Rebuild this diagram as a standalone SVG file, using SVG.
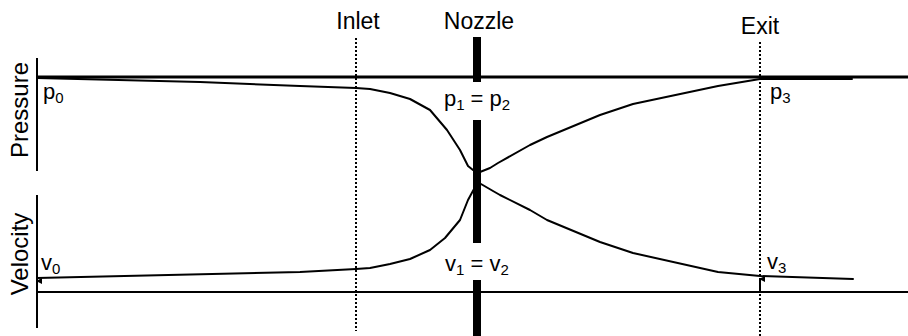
<svg xmlns="http://www.w3.org/2000/svg" width="908" height="336" viewBox="0 0 908 336">
<style>
text{font-family:"Liberation Sans",Arial,sans-serif;fill:#000}
.lbl{font-size:23px}
.ax{font-size:24px}
.v{font-size:22px}
.sub{font-size:15px}
.curve{fill:none;stroke:#000;stroke-width:2;stroke-linejoin:round;stroke-linecap:round}
.dot{stroke:#000;stroke-width:2;stroke-dasharray:2 2;fill:none}
.bar{fill:#000}
</style>
<defs>
<marker id="ah" viewBox="0 0 6 6" refX="3" refY="1" markerWidth="6" markerHeight="6" markerUnits="userSpaceOnUse" orient="auto-start-reverse">
<path d="M0,6 L3,0 L6,6 Z" fill="#000"/>
</marker>
</defs>
<rect width="908" height="336" fill="#fff"/>
<g id="axes">
<line x1="37" y1="58" x2="37" y2="171" stroke="#000" stroke-width="2"/>
<line x1="37" y1="77" x2="908" y2="77" stroke="#000" stroke-width="3"/>
<line x1="37" y1="195" x2="37" y2="328" stroke="#000" stroke-width="2"/>
<line x1="37" y1="292" x2="908" y2="292" stroke="#000" stroke-width="1.8"/>
<text class="ax" transform="translate(28,110) rotate(-90)" text-anchor="middle">Pressure</text>
<text class="ax" transform="translate(28,254) rotate(-90)" text-anchor="middle">Velocity</text>
</g>
<g id="stations">
<line class="dot" x1="356" y1="38" x2="356" y2="331"/>
<line class="dot" x1="760" y1="42" x2="760" y2="336"/>
<text class="lbl" x="358" y="29" text-anchor="middle">Inlet</text>
<text class="lbl" x="479" y="29" text-anchor="middle">Nozzle</text>
<text class="lbl" x="760" y="34" text-anchor="middle">Exit</text>
</g>
<g id="connectors">
<polyline id="pressure-curve" class="curve" points="37,78 200,82 300,86 356,88 370,89 390,93 410,99 430,110 447,130 460,150 468,166 473,170 480,172 490,168 498,163 530,145 547,137 600,115 633,104 718,86 760,79 852,79"/>
<polyline id="velocity-curve" class="curve" points="37,278 300,272 356,269 370,268 390,264 410,259 430,250 445,238 460,220 468,200 474,189 481,184 493,191 500,195 530,210 547,220 600,242 633,253 718,272 760,276 853,279"/>
<line x1="37" y1="291" x2="37" y2="281" stroke="#000" stroke-width="1.5" marker-end="url(#ah)"/>
<line x1="760" y1="291" x2="760" y2="279" stroke="#000" stroke-width="2" marker-end="url(#ah)"/>
</g>
<g id="nozzle">
<rect class="bar" x="473" y="37" width="8" height="45"/>
<rect class="bar" x="473" y="120" width="8" height="123"/>
<rect class="bar" x="473" y="280" width="8" height="56"/>
</g>
<g id="labels">
<text class="v" x="43" y="99">p<tspan class="sub" dy="4">0</tspan></text>
<text class="v" x="770" y="99">p<tspan class="sub" dy="4">3</tspan></text>
<text class="v" x="477" y="106" text-anchor="middle">p<tspan class="sub" dy="4">1</tspan><tspan dy="-4"> = p</tspan><tspan class="sub" dy="4">2</tspan></text>
<text class="v" x="41" y="270">v<tspan class="sub" dy="4">0</tspan></text>
<text class="v" x="767" y="269">v<tspan class="sub" dy="4">3</tspan></text>
<text class="v" x="477" y="271" text-anchor="middle">v<tspan class="sub" dy="4">1</tspan><tspan dy="-4"> = v</tspan><tspan class="sub" dy="4">2</tspan></text>
</g>
</svg>
